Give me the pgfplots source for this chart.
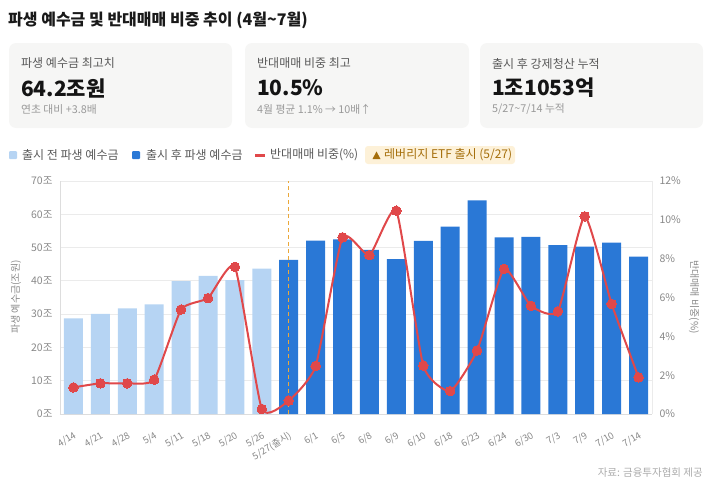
\documentclass[border=0pt]{standalone}
\usepackage{fontspec}
\setmainfont{Noto Sans CJK KR}
\usepackage{pgfplots}
\pgfplotsset{compat=1.18}
\definecolor{lightbar}{HTML}{B6D4F3}
\definecolor{darkbar}{HTML}{2A78D6}
\definecolor{redline}{HTML}{E0484A}
\definecolor{gridc}{HTML}{EBEBEB}
\definecolor{axisc}{HTML}{DDDDDD}
\definecolor{tickc}{HTML}{888888}
\definecolor{cardbg}{HTML}{F6F6F5}
\definecolor{etfbg}{HTML}{FDF1D8}
\definecolor{etftext}{HTML}{A56E0A}
\definecolor{dashc}{HTML}{EBA83A}
\newcommand{\fs}[1]{\fontsize{#1}{#1}\selectfont}
\begin{document}
\begin{tikzpicture}
\path[use as bounding box] (0pt,0pt) rectangle (710pt,-485pt);
% title
\node[anchor=west, inner sep=0pt, font=\bfseries\fs{16}, text=black!90] at (8pt,-20pt) {파생 예수금 및 반대매매 비중 추이 (4월\textasciitilde7월)};
% cards
\fill[cardbg, rounded corners=7pt] (9pt,-43pt) rectangle (232pt,-128pt);
\fill[cardbg, rounded corners=7pt] (245pt,-43pt) rectangle (469pt,-128pt);
\fill[cardbg, rounded corners=7pt] (480pt,-43pt) rectangle (703pt,-128pt);
\foreach \x/\a/\b/\c in {21/{파생 예수금 최고치}/{64.2조원}/{연초 대비 +3.8배},
  257/{반대매매 비중 최고}/{10.5\%}/{4월 평균 1.1\% → 10배↑},
  492/{출시 후 강제청산 누적}/{1조1053억}/{5/27\textasciitilde7/14 누적}}{
  \node[anchor=west, inner sep=0pt, font=\fs{12}, text=black!65] at (\x pt,-63.5pt) {\a};
  \node[anchor=west, inner sep=0pt, font=\bfseries\fs{21}, text=black!92] at (\x pt,-88pt) {\b};
  \node[anchor=west, inner sep=0pt, font=\fs{10.8}, text=black!40] at (\x pt,-109pt) {\c};
}
% legend
\fill[lightbar, rounded corners=1pt] (9pt,-151pt) rectangle (17pt,-159pt);
\node[anchor=west, inner sep=0pt, font=\fs{12}, text=black!65] at (22pt,-155pt) {출시 전 파생 예수금};
\fill[darkbar, rounded corners=1pt] (132pt,-151pt) rectangle (140pt,-159pt);
\node[anchor=west, inner sep=0pt, font=\fs{12}, text=black!65] at (146pt,-155pt) {출시 후 파생 예수금};
\fill[redline] (255pt,-153.5pt) rectangle (265pt,-156.5pt);
\node[anchor=west, inner sep=0pt, font=\fs{12}, text=black!65] at (270pt,-155pt) {반대매매 비중(\%)};
\fill[etfbg, rounded corners=3pt] (365pt,-146pt) rectangle (515pt,-164pt);
\fill[etftext] (372.5pt,-159pt) -- (380.5pt,-159pt) -- (376.5pt,-151.5pt) -- cycle;
\node[anchor=west, inner sep=0pt, font=\fs{12}, text=etftext] at (384pt,-155pt) {레버리지 ETF 출시 (5/27)};
% axis labels
\node[rotate=90, inner sep=0pt, font=\fs{10}, text=tickc] at (16pt,-297pt) {파생 예수금(조원)};
\node[rotate=-90, inner sep=0pt, font=\fs{10}, text=tickc] at (694pt,-297pt) {반대매매 비중(\%)};
% footer
\node[anchor=east, inner sep=0pt, font=\fs{10.5}, text=black!33] at (703pt,-473pt) {자료: 금융투자협회 제공};

\begin{axis}[at={(60pt,-414pt)}, anchor=south west, scale only axis,
  width=592pt, height=233pt,
  xmin=-0.5, xmax=21.5, ymin=0, ymax=70,
  axis x line*=bottom, axis y line*=left,
  axis line style={axisc, line width=0.8pt},
  ytick={0,10,...,70},
  yticklabels={0조,10조,20조,30조,40조,50조,60조,70조},
  ymajorgrids, grid style={gridc, line width=0.8pt},
  major tick length=0pt,
  xtick={0,...,21},
  xticklabels={4/14,4/21,4/28,5/4,5/11,5/18,5/20,5/26,5/27(출시),6/1,6/5,6/8,6/9,6/10,6/18,6/23,6/24,6/30,7/3,7/9,7/10,7/14},
  xticklabel style={rotate=31, anchor=north east, inner sep=0pt, font=\fs{9.5}, text=tickc, yshift=-14pt, xshift=-9pt},
  yticklabel style={font=\fs{10.5}, text=tickc, xshift=-4pt},
  ybar, bar width=19pt, bar shift=0pt,
  clip=false,
]
\addplot[fill=lightbar, draw=none] coordinates {(0,28.7)(1,30.1)(2,31.7)(3,32.9)(4,39.9)(5,41.5)(6,40.2)(7,43.7)};
\addplot[fill=darkbar, draw=none] coordinates {(8,46.3)(9,52.1)(10,52.5)(11,49.3)(12,46.5)(13,52.0)(14,56.3)(15,64.2)(16,53.1)(17,53.2)(18,50.7)(19,50.3)(20,51.5)(21,47.3)};
\draw[dashc, line width=1.5pt, dash pattern=on 4pt off 3pt] (axis cs:8,0) -- (axis cs:8,70);
\end{axis}

\begin{axis}[at={(60pt,-414pt)}, anchor=south west, scale only axis,
  width=592pt, height=233pt,
  xmin=-0.5, xmax=21.5, ymin=0, ymax=12,
  axis x line=none, axis y line*=right,
  axis line style={gridc, line width=0.8pt},
  ytick={0,2,...,12},
  yticklabels={0\%,2\%,4\%,6\%,8\%,10\%,12\%},
  major tick length=0pt,
  yticklabel style={font=\fs{10.5}, text=tickc, xshift=4pt},
  clip=false,
]
\addplot[redline, line width=2pt, smooth, tension=0.3, mark=*, mark size=4.8pt, mark options={fill=redline, draw=redline, line width=0pt}]
 coordinates {(0,1.37)(1,1.58)(2,1.58)(3,1.77)(4,5.38)(5,5.97)(6,7.58)(7,0.26)(8,0.69)(9,2.47)(10,9.10)(11,8.18)(12,10.47)(13,2.49)(14,1.18)(15,3.27)(16,7.47)(17,5.57)(18,5.28)(19,10.18)(20,5.67)(21,1.89)};
\end{axis}
\end{tikzpicture}
\end{document}
